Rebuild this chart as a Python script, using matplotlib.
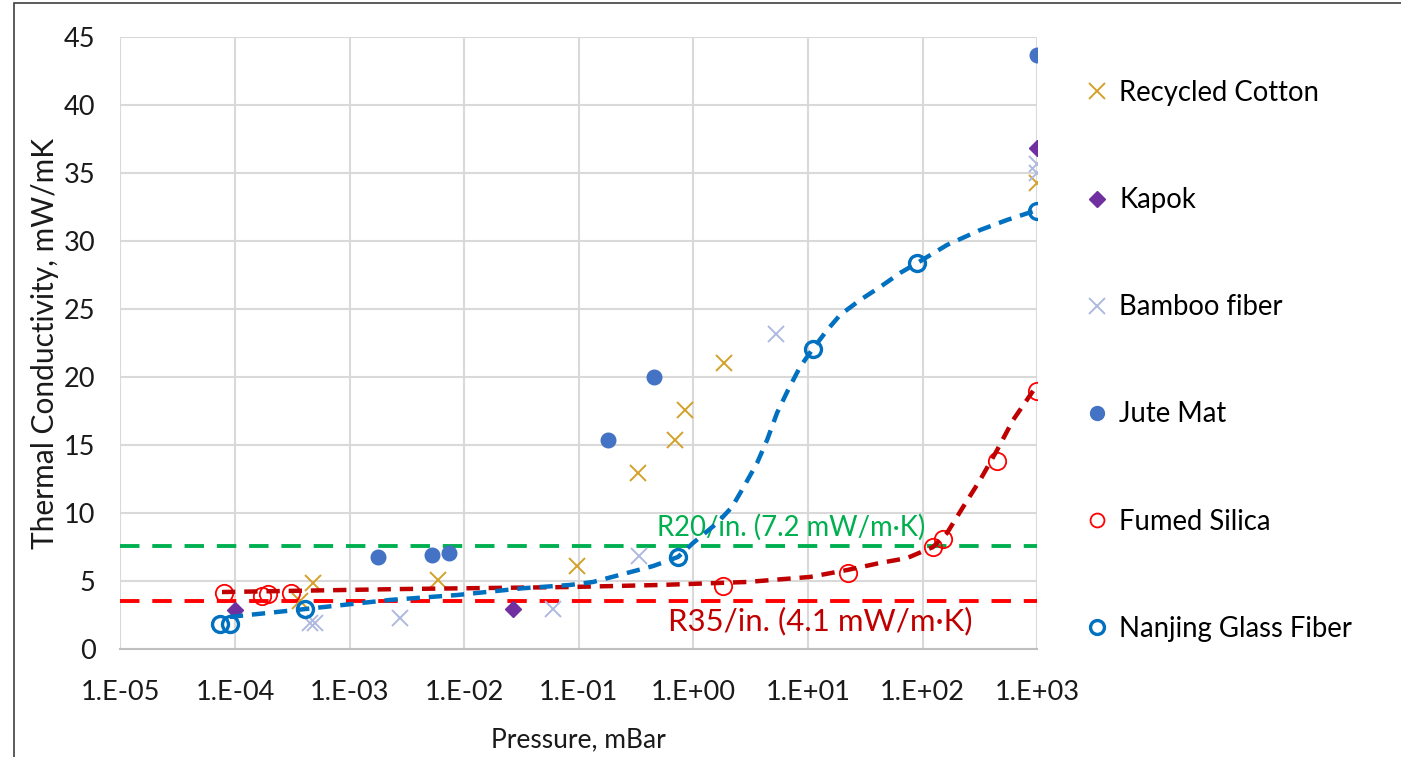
import numpy as np
import matplotlib
matplotlib.use("Agg")
from matplotlib import pyplot as plt
from matplotlib.lines import Line2D
from matplotlib.patches import Rectangle

plt.rcParams['font.family'] = ['Lato', 'DejaVu Sans']

# measured points (pressure in mBar, conductivity in mW/mK)
cotton_p = [3.7e-4, 4.8e-4, 5.9e-3, 0.096, 0.33, 0.69, 0.845, 1.85, 1000]
cotton_k = [3.55, 4.87, 5.10, 6.12, 13.0, 15.4, 17.6, 21.05, 34.3]

kapok_p = [1.0e-4, 0.0267, 1000]
kapok_k = [2.89, 2.96, 36.84]

bamboo_p = [4.5e-4, 5.0e-4, 2.75e-3, 0.0596, 0.335, 5.26, 1000, 1000]
bamboo_k = [1.93, 1.93, 2.30, 2.96, 6.86, 23.16, 35.7, 35.0]

jute_p = [1.77e-3, 5.24e-3, 7.37e-3, 0.18, 0.453, 1000]
jute_k = [6.79, 6.93, 7.08, 15.39, 20.0, 43.7]

silica_p = [8.0e-5, 1.72e-4, 1.94e-4, 3.08e-4, 1.81, 22.3, 123, 151, 446, 1000]
silica_k = [4.14, 3.92, 4.07, 4.14, 4.65, 5.61, 7.52, 8.11, 13.85, 19.0]

glass_p = [7.4e-5, 9.0e-5, 4.08e-4, 0.734, 11.06, 89.3, 1000]
glass_k = [1.86, 1.86, 2.96, 6.79, 22.08, 28.4, 32.23]

# fitted curves
glass_fit_p = [9.0e-5, 4.08e-4, 2.25e-3, 8.65e-3, 0.0326, 0.0837, 0.133, 0.263,
               0.444, 0.734, 0.993, 1.61, 2.17, 2.71, 3.59, 4.39, 5.36, 6.69,
               8.51, 10.8, 14.7, 19.0, 28.4, 42.5, 63.5, 89.3, 163, 317, 545, 1000]
glass_fit_k = [2.38, 2.96, 3.63, 3.99, 4.49, 4.73, 4.95, 5.61,
               6.12, 6.79, 7.82, 9.29, 10.46, 11.86, 13.70, 15.39, 17.38, 19.07,
               20.76, 22.0, 23.48, 24.58, 25.68, 26.64, 27.67, 28.40, 29.73, 30.83, 31.57, 32.30]

silica_fit_p = [7.7e-5, 2.75e-3, 0.0837, 0.511, 2.94, 10.4, 21.9, 42.5, 73.1,
                123, 163, 225, 317, 446, 615, 919]
silica_fit_k = [4.21, 4.43, 4.58, 4.73, 4.95, 5.32, 5.83, 6.35, 6.71,
                7.52, 8.55, 10.46, 12.45, 14.65, 16.86, 19.0]

r20_k = 7.6
r35_k = 3.55

decades = list(range(-5, 4))
y_ticks = list(range(0, 50, 5))

fig = plt.figure(figsize=(14.01, 7.57), dpi=100)
ax = fig.add_axes([120.4 / 1401, 1 - 649.3 / 757, 916.9 / 1401, 612 / 757])

ax.axhline(r20_k, color='#00B050', lw=2.8, ls=(0, (5, 3.3)), zorder=2)
ax.axhline(r35_k, color='#FF0000', lw=2.8, ls=(0, (5, 3.3)), zorder=2)

ax.plot(cotton_p, cotton_k, 'x', color='#D4A12A', ms=12, mew=1.4, zorder=3)
ax.plot(kapok_p, kapok_k, 'D', color='#7030A0', ms=8, zorder=3)
ax.plot(bamboo_p, bamboo_k, 'x', color='#AFB9DF', ms=12, mew=1.4, zorder=3)
ax.plot(jute_p, jute_k, 'o', color='#4472C4', ms=10.5, zorder=3)
ax.plot(silica_p, silica_k, 'o', mfc='none', mec='#FF0000', ms=12.5, mew=1.3, zorder=4)
ax.plot(glass_p, glass_k, 'o', mfc='none', mec='#0070C0', ms=11.5, mew=2.4, zorder=4)

ax.plot(silica_fit_p, silica_fit_k, color='#C00000', lw=3.2, ls=(0, (3, 2)), zorder=5)
ax.plot(glass_fit_p, glass_fit_k, color='#0070C0', lw=3.2, ls=(0, (3, 2)), zorder=5)

ax.text(0.481, 9.0, 'R20/in. (7.2 mW/m·K)', color='#00B050', fontsize=19.8,
        ha='left', va='center')
ax.text(0.6, 2.08, 'R35/in. (4.1 mW/m·K)', color='#C00000', fontsize=22.4,
        ha='left', va='center')

ax.set_xscale('log')
ax.set_xlim(1e-5, 1e3)
ax.set_ylim(0, 45)
ax.set_xticks([10.0 ** d for d in decades])
ax.set_xticklabels(['1.E%+03d' % d for d in decades])
ax.xaxis.set_minor_locator(matplotlib.ticker.NullLocator())
ax.set_yticks(y_ticks)
ax.tick_params(length=0, labelsize=19.5, colors='#1A1A1A')
ax.tick_params(axis='x', pad=22)
ax.tick_params(axis='y', pad=18)
ax.grid(True, color='#D9D9D9', lw=1.5)
ax.set_axisbelow(True)
for s in ['top', 'right', 'left']:
    ax.spines[s].set_visible(False)
ax.spines['bottom'].set_color('#BFBFBF')
ax.spines['bottom'].set_linewidth(1.5)

ax.set_xlabel('Pressure, mBar', fontsize=19, color='#1A1A1A', va='center')
ax.xaxis.set_label_coords(0.5, (649.3 - 740) / 612)
ax.set_ylabel('Thermal Conductivity, mW/mK', fontsize=21.5, color='#1A1A1A', va='center')
ax.yaxis.set_label_coords(-(120.4 - 45) / 916.9, (649.3 - 343) / 612)

handles = [
    Line2D([], [], ls='none', marker='x', color='#D4A12A', ms=11, mew=1.4),
    Line2D([], [], ls='none', marker='D', color='#7030A0', ms=8),
    Line2D([], [], ls='none', marker='x', color='#AFB9DF', ms=11, mew=1.4),
    Line2D([], [], ls='none', marker='o', color='#4472C4', ms=10),
    Line2D([], [], ls='none', marker='o', mfc='none', mec='#FF0000', ms=10, mew=1.3),
    Line2D([], [], ls='none', marker='o', mfc='none', mec='#0070C0', ms=10, mew=2.4),
]
labels = ['Recycled Cotton', 'Kapok', 'Bamboo fiber', 'Jute Mat',
          'Fumed Silica', 'Nanjing Glass Fiber']
fig.legend(handles, labels, loc='upper left', bbox_to_anchor=(1086 / 1401, 1 - 80 / 757),
           frameon=False, fontsize=19.8, labelspacing=2.95, handlelength=0.8,
           handletextpad=0.4, borderaxespad=0, borderpad=0, labelcolor='#000000')

fig.patches.append(Rectangle((14 / 1401, -0.05), 1.1, 1 - 3 / 757 + 0.05,
                             transform=fig.transFigure, fill=False,
                             edgecolor='#404040', lw=1.2))

fig.savefig('out.png', dpi=100)
